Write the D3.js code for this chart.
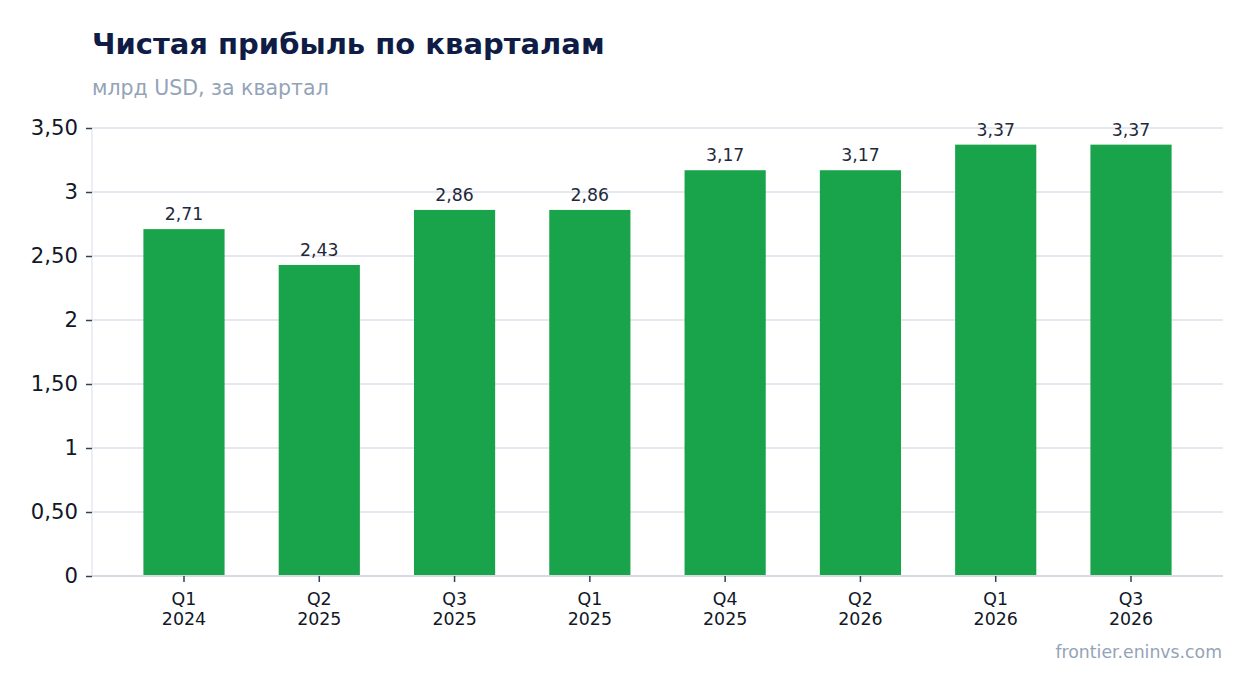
<!DOCTYPE html>
<html><head><meta charset="utf-8">
<script src="https://cdn.jsdelivr.net/npm/d3@7"></script>
<style>body{margin:0;background:#fff;font-family:"DejaVu Sans",sans-serif}</style>
</head><body><svg id="c" width="1254" height="693"></svg>
<script>
const categories = ["Q1\n2024","Q2\n2025","Q3\n2025","Q1\n2025","Q4\n2025","Q2\n2026","Q1\n2026","Q3\n2026"];
const values = [2.71, 2.43, 2.86, 2.86, 3.17, 3.17, 3.37, 3.37];
const yTicks = [0, 0.5, 1, 1.5, 2, 2.5, 3, 3.5];
const title = "Чистая прибыль по кварталам";
const subtitle = "млрд USD, за квартал";
const source = "frontier.eninvs.com";

const svg = d3.select("#c");
const m = {l:92, r:1223, t:128, b:576};
const fmt = v => Number.isInteger(v) ? String(v) : v.toFixed(2).replace(".", ",");
const x = d3.scaleBand().domain(categories.map((c,i)=>i)).range([m.l, m.r]).paddingInner(0.4).paddingOuter(0.38);
const y = d3.scaleLinear().domain([0, 3.5]).range([m.b, m.t]);

svg.append("text").attr("x",92).attr("y",54).attr("font-size",29).attr("font-weight","bold").attr("fill","#0f1c45").text(title);
svg.append("text").attr("x",92).attr("y",95).attr("font-size",20.5).attr("fill","#94a3b8").text(subtitle);
svg.append("text").attr("x",1222).attr("y",658).attr("text-anchor","end").attr("font-size",17.3).attr("fill","#94a3b8").text(source);

// grid
svg.append("g").selectAll("line").data(yTicks.filter(d=>d>0)).join("line")
  .attr("x1",m.l).attr("x2",m.r).attr("y1",d=>y(d)).attr("y2",d=>y(d))
  .attr("stroke","#e5e8f0").attr("stroke-width",2);

// bars
svg.append("g").selectAll("rect").data(values).join("rect")
  .attr("x",(d,i)=>x(i)).attr("width",x.bandwidth())
  .attr("y",d=>y(d)).attr("height",d=>y(0)-y(d)).attr("fill","#19a34a");

svg.append("g").selectAll("text").data(values).join("text")
  .attr("x",(d,i)=>x(i)+x.bandwidth()/2).attr("y",d=>y(d)-9)
  .attr("text-anchor","middle").attr("font-size",17.3).attr("fill","#1e293b").text(d=>fmt(d));

// y axis
const ya = svg.append("g").attr("transform",`translate(${m.l},0)`)
  .call(d3.axisLeft(y).tickValues(yTicks).tickFormat(fmt).tickSize(6).tickPadding(8));
ya.select(".domain").attr("stroke","#e5e8f0").attr("stroke-width",1.5).attr("d",`M0,${m.t}V${m.b}`);
ya.selectAll(".tick line").attr("stroke","#334155").attr("stroke-width",1.5);
ya.selectAll(".tick text").attr("font-size",21.2).attr("fill","#111827").attr("font-family","DejaVu Sans");

// x axis
const xa = svg.append("g").attr("transform",`translate(0,${m.b})`)
  .call(d3.axisBottom(x).tickSize(6).tickPadding(8).tickFormat(()=>""));
xa.select(".domain").attr("stroke","#d5dae3").attr("stroke-width",2).attr("d",`M${m.l},0H${m.r}`);
xa.selectAll(".tick line").attr("stroke","#334155").attr("stroke-width",1.5);
xa.selectAll(".tick text").each(function(d){
  const t = d3.select(this).attr("font-size",17.4).attr("fill","#111827").attr("font-family","DejaVu Sans").attr("dy",null).attr("y",0);
  categories[d].split("\n").forEach((s,k)=>t.append("tspan").attr("x",0).attr("y",k===0?29:49).text(s));
});
</script></body></html>
